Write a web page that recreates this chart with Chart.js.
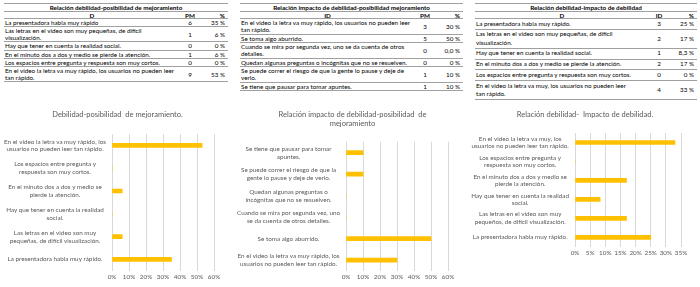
<!DOCTYPE html>
<html>
<head>
<meta charset="utf-8">
<script src="https://cdn.jsdelivr.net/npm/chart.js@4.4.1/dist/chart.umd.min.js"></script>
<style>
  body { margin: 0; width: 700px; height: 287px; background: #fff; position: relative; overflow: hidden; font-family: Lato, "Noto Sans", sans-serif; }
  .tbl { position: absolute; color: #000; font-size: 6.3px; border-top: 1px solid #a0a0a0; }
  .row { display: flex; align-items: center; box-sizing: border-box; border-bottom: 1px solid #a0a0a0; white-space: nowrap; }
  .row .t { flex: 1; padding-left: 1px; }
  .row .n { width: 22px; text-align: center; }
  .row .p { width: 24px; text-align: right; padding-right: 3px; }
  .row.title { justify-content: center; font-weight: bold; }
  .row.head { font-weight: bold; }
  .row.head .t { text-align: center; }
  .box { position: absolute; }
</style>
</head>
<body>
<div id="t1" class="tbl" style="left:4px; top:3px; width:224px;"></div>
<div id="t2" class="tbl" style="left:240px; top:3px; width:223px;"></div>
<div id="t3" class="tbl" style="left:475px; top:3px; width:222px;"></div>

<div class="box" style="left:0; top:105px;"><canvas id="c1" width="235" height="182"></canvas></div>
<div class="box" style="left:235px; top:105px;"><canvas id="c2" width="235" height="182"></canvas></div>
<div class="box" style="left:470px; top:105px;"><canvas id="c3" width="230" height="182"></canvas></div>

<script>
// --- table data ---
var table1Title = 'Relación debilidad-posibilidad  de mejoramiento';
var table1Head = ['D', 'PM', '%'];
var table1Rows = [
    ['La presentadora  habla muy rápido'],
    ['Las letras en el video son muy pequeñas, de difícil', 'visualización.'],
    ['Hay que tener en cuenta la realidad social.'],
    ['En el minuto dos a dos y medio se pierde la atención.'],
    ['Los espacios entre pregunta y respuesta son muy cortos.'],
    ['En el video la letra va muy rápido, los usuarios  no pueden leer', 'tan rápido.']
];
var table1Count = [6, 1, 0, 1, 0, 9];
var table1Pct = ['35 %', '6 %', '0 %', '6 %', '0 %', '53 %'];

var table2Title = 'Relación impacto de debilidad-posibilidad  mejoramiento';
var table2Head = ['ID', 'PM', '%'];
var table2Rows = [
    ['En el video la letra va muy rápido, los usuarios  no pueden leer', 'tan rápido.'],
    ['Se toma algo aburrido.'],
    ['Cuando se mira por segunda vez, uno se da cuenta de otros', 'detalles.'],
    ['Quedan algunas preguntas  o incógnitas que no se resuelven.'],
    ['Se puede correr el riesgo de que la gente lo pause y deje de', 'verlo.'],
    ['Se tiene que pausar para tomar apuntes.']
];
var table2Count = [3, 5, 0, 0, 1, 1];
var table2Pct = ['30 %', '50 %', '0,0 %', '0 %', '10 %', '10 %'];

var table3Title = 'Relación  debilidad-impacto  de debilidad';
var table3Head = ['D', 'ID', '%'];
var table3Rows = [
    ['La presentadora habla muy rápido.'],
    ['Las letras en el video son muy pequeñas, de difícil', 'visualización.'],
    ['Hay que tener en cuenta la realidad  social.'],
    ['En el minuto dos a dos y medio se pierde la atención.'],
    ['Los espacios  entre pregunta y respuesta son muy cortos.'],
    ['En el video la letra va muy, los usuarios  no pueden leer', 'tan rápido.']
];
var table3Count = [3, 2, 1, 2, 0, 4];
var table3Pct = ['25 %', '17 %', '8,3 %', '17 %', '0 %', '33 %'];

// --- chart data (table order, first one is drawn at the bottom) ---
var chart1Title = 'Debilidad-posibilidad  de mejoramiento.';
var chart1Labels = [
    ['La presentadora habla muy rápido.'],
    ['Las letras en el video son muy', 'pequeñas, de difícil visualización.'],
    ['Hay que tener en cuenta la realidad', 'social.'],
    ['En el minuto dos a dos y medio se', 'pierde la atención.'],
    ['Los espacios entre pregunta y', 'respuesta son muy cortos.'],
    ['En el video la letra va muy rápido, los', 'usuarios no pueden leer tan rápido.']
];
var chart1Values = [35, 6, 0, 6, 0, 53];

var chart2Title = ['Relación impacto de debilidad-posibilidad  de', 'mejoramiento'];
var chart2Labels = [
    ['En el video la letra va muy rápido, los', 'usuarios no pueden leer tan rápido.'],
    ['Se toma algo aburrido.'],
    ['Cuando se mira por segunda vez, uno', 'se da cuenta de otros detalles.'],
    ['Quedan algunas preguntas o', 'incógnitas que no se resuelven.'],
    ['Se puede correr el riesgo de que la', 'gente lo pause y deje de verlo.'],
    ['Se tiene que pausar para tomar', 'apuntes.']
];
var chart2Values = [30, 50, 0, 0, 10, 10];

var chart3Title = 'Relación debilidad-  Impacto de debilidad.';
var chart3Labels = [
    ['La presentadora habla muy rápido.'],
    ['Las letras en el video son muy', 'pequeños, de difícil visualización.'],
    ['Hay que tener en cuenta la realidad', 'social.'],
    ['En el minuto dos a dos y medio se', 'pierde la atención.'],
    ['Los espacios entre pregunta y', 'respuesta son muy cortos.'],
    ['En el video la letra va muy, los', 'usuarios no pueden leer tan rápido.']
];
var chart3Values = [25, 17, 8.3, 17, 0, 33];

// build a table from its arrays
function buildTable(id, title, head, rows, counts, pcts, lineH, pad) {
    var el = document.getElementById(id);
    var html = '<div class="row title" style="height:8px">' + title + '</div>';
    html += '<div class="row head" style="height:7px"><span class="t">' + head[0] + '</span><span class="n">' + head[1] + '</span><span class="p">' + head[2] + '</span></div>';
    for (var i = 0; i < rows.length; i++) {
        var h = rows[i].length * lineH + pad;
        html += '<div class="row" style="height:' + h + 'px; line-height:' + lineH + 'px">' +
            '<span class="t">' + rows[i].join('<br>') + '</span>' +
            '<span class="n">' + counts[i] + '</span>' +
            '<span class="p">' + pcts[i] + '</span></div>';
    }
    el.innerHTML = html;
}

buildTable('t1', table1Title, table1Head, table1Rows, table1Count, table1Pct, 7, 1.2);
buildTable('t2', table2Title, table2Head, table2Rows, table2Count, table2Pct, 7, 1.5);
buildTable('t3', table3Title, table3Head, table3Rows, table3Count, table3Pct, 8.5, 2.2);

var grey = '#595959';
var font = 'Lato';

// one horizontal bar chart
function makeChart(id, title, labels, values, max, step, axisW, rightPad, titleBottom, bottomPad) {
    var ctx = document.getElementById(id).getContext('2d');
    return new Chart(ctx, {
        type: 'bar',
        data: {
            labels: labels,
            datasets: [{
                data: values,
                backgroundColor: '#FFC000',
                barThickness: 4
            }]
        },
        options: {
            indexAxis: 'y',
            responsive: false,
            animation: false,
            layout: { padding: { left: 0, right: 0, top: 0, bottom: bottomPad } },
            plugins: {
                legend: { display: false },
                tooltip: { enabled: false },
                title: {
                    display: true,
                    text: title,
                    color: grey,
                    font: { family: font, size: 7.5, weight: 'normal', lineHeight: 1.2 },
                    padding: { top: 5.5, bottom: titleBottom }
                }
            },
            scales: {
                x: {
                    min: 0,
                    max: max,
                    border: { display: false },
                    grid: { color: '#d9d9d9', drawTicks: false },
                    ticks: {
                        stepSize: step,
                        padding: 2,
                        autoSkip: false,
                        maxRotation: 0,
                        minRotation: 0,
                        color: grey,
                        font: { family: font, size: 6.3 },
                        callback: function (v) { return v + '%'; }
                    },
                    afterFit: function (scale) {
                        scale.paddingLeft = 0;
                        scale.paddingRight = rightPad;
                    }
                },
                y: {
                    reverse: true,
                    border: { display: false },
                    grid: { display: false, drawTicks: false },
                    ticks: {
                        autoSkip: false,
                        crossAlign: 'center',
                        padding: 6,
                        color: grey,
                        font: { family: font, size: 6.3, lineHeight: 1.25 }
                    },
                    afterFit: function (scale) {
                        scale.width = axisW;
                        scale.paddingTop = 0;
                        scale.paddingBottom = 0;
                    }
                }
            }
        }
    });
}

makeChart('c1', chart1Title, chart1Labels, chart1Values, 60, 10, 112, 21, 14.5, 4.6);
makeChart('c2', chart2Title, chart2Labels, chart2Values, 60, 10, 111, 22, 13.3, 4.6);
makeChart('c3', chart3Title, chart3Labels, chart3Values, 35, 5, 105, 19, 13.5, 28.6);
</script>
</body>
</html>
